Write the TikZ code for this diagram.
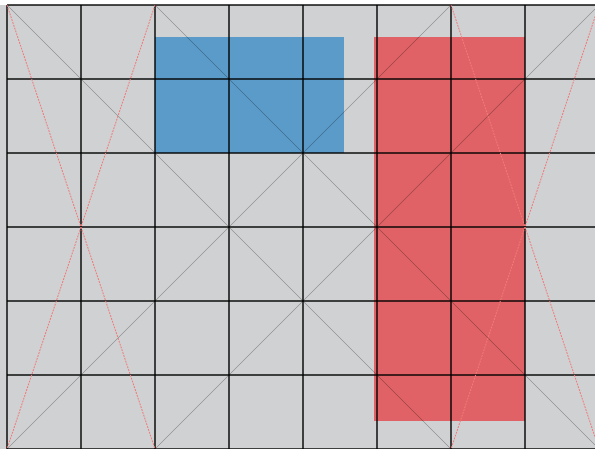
\documentclass[tikz,border=0pt]{standalone}
\usepackage{tikz}
\definecolor{panelgrey}{HTML}{D0D1D3}
\definecolor{boxblue}{HTML}{5B9BC9}
\definecolor{boxred}{HTML}{E06266}
\definecolor{guidered}{HTML}{F27A7A}

\begin{document}
\begin{tikzpicture}[x=74pt,y=-74pt,
  gridline/.style={draw=black,line width=1.5pt,opacity=0.7},
  diagline/.style={draw=black,line width=0.7pt,opacity=0.3},
  guideline/.style={draw=guidered,line width=0.9pt,
               dash pattern=on 1.8pt off 1.2pt}]
  \useasboundingbox (-7pt,5pt) rectangle (588pt,-444pt);
  \fill[white] (-7pt,5pt) rectangle (588pt,-444pt);
  \fill[panelgrey] (-7pt,0pt) rectangle (588pt,-444pt);
  % boxes
  \fill[boxblue] (2,0.43) rectangle (4.55,2);
  \fill[boxred] (4.96,0.43) rectangle (7,5.62);
  % grid
  \foreach \i in {0,...,8}
    \draw[gridline] (\i,0) -- (\i,6);
  \foreach \j in {0,...,6}
    \draw[gridline] (0,\j) -- (8,\j);
  % square diagonals
  \draw[diagline] (0,0) -- (6,6);
  \draw[diagline] (6,0) -- (0,6);
  \draw[diagline] (2,0) -- (8,6);
  \draw[diagline] (8,0) -- (2,6);
  % side strips
  \draw[guideline] (0,0) -- (2,6);
  \draw[guideline] (2,0) -- (0,6);
  \draw[guideline] (6,0) -- (8,6);
  \draw[guideline] (8,0) -- (6,6);
\end{tikzpicture}
\end{document}
